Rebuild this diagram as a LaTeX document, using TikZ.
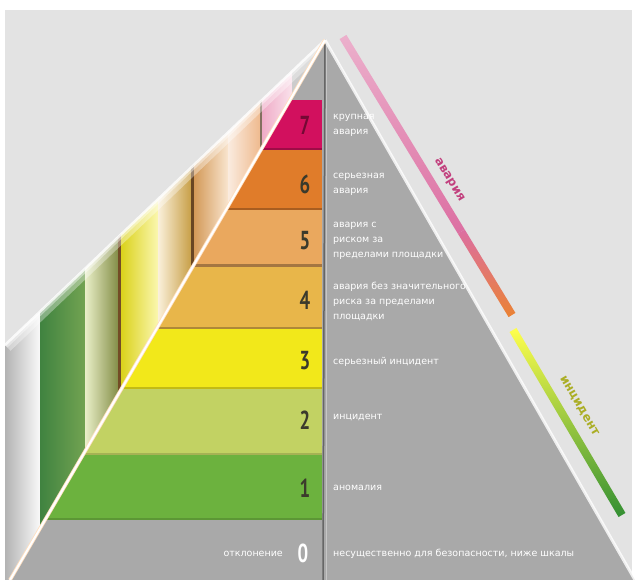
\documentclass[tikz,border=0pt]{standalone}
\usepackage{fontspec}
\setmainfont{DejaVu Sans}
\newfontfamily\digitfont[FakeStretch=0.72]{PT Sans}
\usetikzlibrary{calc}

\definecolor{panel}{HTML}{E3E3E3}
\definecolor{face}{HTML}{A9A9A9}
\definecolor{lvlseven}{HTML}{D2105E}
\definecolor{lvlsix}{HTML}{E07C2A}
\definecolor{lvlfive}{HTML}{EAA85E}
\definecolor{lvlfour}{HTML}{E8B64A}
\definecolor{lvlthree}{HTML}{F2E81A}
\definecolor{lvltwo}{HTML}{C2D263}
\definecolor{lvlone}{HTML}{6CB23E}
\definecolor{digit}{HTML}{3B3A2C}
\definecolor{avlabel}{HTML}{C2407E}
\definecolor{inlabel}{HTML}{ABAE25}
\definecolor{avpink}{HTML}{DC6FA2}
\definecolor{avorange}{HTML}{EA8233}

\begin{document}
\begin{tikzpicture}[x=1pt, y=1pt,
    desc/.style={anchor=west, align=left, text=white, inner sep=0pt,
      font=\fontsize{9.5}{15}\selectfont},
    num/.style={text=digit, inner sep=0pt,
      font=\digitfont\bfseries\fontsize{26}{26}\selectfont},
    zone/.style={inner sep=0pt, font=\bfseries\fontsize{12}{12}\selectfont}]

    \useasboundingbox (0,0) rectangle (635,580);
    \fill[white] (0,0) rectangle (635,580);
    \fill[panel] (5,0) rectangle (632,570);

    \coordinate (apex) at (325,540);
    \coordinate (dbot) at (10,0);
    \coordinate (rbot) at (635,0);
    \coordinate (obot) at (5,235);

    % side of the pyramid
    \begin{scope}
      \clip (apex) -- (obot) -- (5,0) -- (dbot) -- cycle;
      \shade[left color=gray!60, right color=gray!5] (5,0) rectangle (40,540);
      \shade[left color=green!35!black!75, right color=lvlone!70!gray] (40,0) rectangle (85,540);
      \shade[left color=lvltwo!35!white, right color=lvltwo!65!black] (85,0) rectangle (120,540);
      \shade[left color=lvlthree!90!black, right color=lvlthree!35!white] (120,0) rectangle (158,540);
      \shade[left color=lvlfour!20!white, right color=lvlfour!85!black] (158,0) rectangle (193,540);
      \shade[left color=lvlfive!90!black, right color=lvlfive!30!white] (193,0) rectangle (228,540);
      \shade[left color=lvlsix!15!white, right color=lvlsix!55!white] (228,0) rectangle (262,540);
      \shade[left color=lvlseven!35!white, right color=lvlseven!12!white] (262,0) rectangle (292,540);
      \fill[gray!40] (292,0) rectangle (325,540);
      \fill[brown!60!black] (118,0) rectangle (120.5,540);
      \fill[brown!55!black] (191,0) rectangle (193.5,540);
      \fill[brown!40!black!70] (259.5,0) rectangle (262,540);
      \draw[white, opacity=0.35, line width=16] (apex) -- (obot);
      \draw[white, opacity=0.4, line width=7] (apex) -- (obot);
    \end{scope}
    \draw[white, opacity=0.8, line width=2.5] (apex) -- (obot);

    % front of the pyramid
    \fill[face] (apex) -- (dbot) -- (rbot) -- cycle;

    % levels
    \begin{scope}
      \clip (apex) -- (dbot) -- (rbot) -- cycle;
      \fill[lvlseven] (0,430) rectangle (322,480);
      \fill[lvlsix] (0,370) rectangle (322,430);
      \fill[lvlfive] (0,313) rectangle (322,370);
      \fill[lvlfour] (0,251) rectangle (322,313);
      \fill[lvlthree] (0,191) rectangle (322,251);
      \fill[lvltwo] (0,125) rectangle (322,191);
      \fill[lvlone] (0,60) rectangle (322,125);

      \fill[lvlseven!75!black] (0,430) rectangle (322,432);
      \fill[lvlsix!75!black] (0,370) rectangle (322,372);
      \fill[lvlfive!70!black] (0,313) rectangle (322,315.5);
      \fill[lvlfour!75!black] (0,251) rectangle (322,253);
      \fill[lvlthree!80!black] (0,191) rectangle (322,193);
      \fill[lvltwo!85!black] (0,125) rectangle (322,127);
      \fill[lvlone!85!black] (0,60) rectangle (322,62);
    \end{scope}

    \draw[gray!80!black, line width=1.5] (apex) -- (323,0);
    \draw[gray!45, line width=1] (326.5,535) -- (326.5,0);
    \draw[orange!25!white, line width=3.6] (apex) -- (dbot);
    \draw[white, line width=2] (apex) -- (dbot);
    \draw[white, opacity=0.8, line width=3] (apex) -- (rbot);

    % numbers
    \node[num, text=lvlseven!55!black] (n7) at (305,455) {7};
    \node[num] (n6) at (305,396) {6};
    \node[num] (n5) at (305,339) {5};
    \node[num] (n4) at (305,280) {4};
    \node[num] (n3) at (305,219) {3};
    \node[num] (n2) at (305,160) {2};
    \node[num] (n1) at (305,92) {1};
    \node[num, text=white] (n0) at (303,27) {0};

    % descriptions
    \begin{scope}
      \clip ($(apex)+(8,0)$) -- ($(rbot)+(8,0)$) -- (325,0) -- (325,540) -- cycle;
      \node[desc] (t7) at (333,455) {крупная\\авария};
      \node[desc] (t6) at (333,396) {серьезная\\авария};
      \node[desc] (t5) at (333,339) {авария с\\риском за\\пределами площадки};
      \node[desc] (t4) at (333,279) {авария без значительного\\риска за пределами\\площадки};
      \node[desc] (t3) at (333,218) {серьезный инцидент};
      \node[desc] (t2) at (333,162) {инцидент};
      \node[desc] (t1) at (333,92) {аномалия};
      \node[desc] (t0) at (333,26) {несущественно для безопасности, ниже шкалы};
    \end{scope}
    \node[desc, anchor=east] (t0l) at (283,26) {отклонение};

    % zones
    \coordinate (avA) at (343,543);
    \coordinate (avM) at ($(343,543)!0.7!(512,265)$);
    \coordinate (avB) at (512,265);
    \coordinate (inA) at (513,250);
    \coordinate (inB) at (622,65);
    \shade[top color=avpink!55!white, bottom color=avpink]
      ($(avA)!4pt!90:(avM)$) -- ($(avM)!4pt!-90:(avA)$) -- ($(avM)!4pt!90:(avA)$) -- ($(avA)!4pt!-90:(avM)$) -- cycle;
    \shade[top color=avpink, bottom color=avorange]
      ($(avM)!4pt!90:(avB)$) -- ($(avB)!4pt!-90:(avM)$) -- ($(avB)!4pt!90:(avM)$) -- ($(avM)!4pt!-90:(avB)$) -- cycle;
    \shade[top color=yellow!70!white, middle color=lvltwo!85!green, bottom color=green!45!black!80]
      ($(inA)!4pt!90:(inB)$) -- ($(inB)!4pt!-90:(inA)$) -- ($(inB)!4pt!90:(inA)$) -- ($(inA)!4pt!-90:(inB)$) -- cycle;
    \node[zone, text=avlabel, rotate=-58.7] (av) at (449,400) {авария};
    \node[zone, text=inlabel, rotate=-59.5] (in) at (579,174) {инцидент};

  \end{tikzpicture}
\end{document}
